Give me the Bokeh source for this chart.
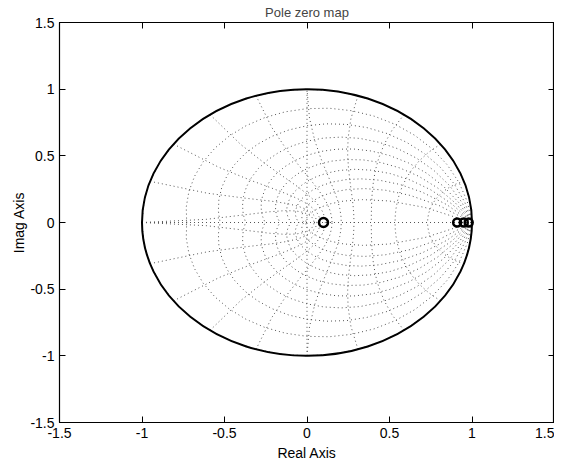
import numpy as np
from bokeh.plotting import figure
from bokeh.models import FixedTicker, LinearAxis, Range1d
from bokeh.embed import file_html
from bokeh.resources import INLINE

title_text = "Pole zero map"
x_label = "Real Axis"
y_label = "Imag Axis"
tick_values = [-1.5, -1, -0.5, 0, 0.5, 1, 1.5]
tick_labels = ["-1.5", "-1", "-0.5", "0", "0.5", "1", "1.5"]

# zgrid parameters (damping ratios and normalized natural frequencies)
zeta_values = [0.0, 0.1, 0.2, 0.3, 0.4, 0.5, 0.6, 0.7, 0.8, 0.9]
wn_values = [0.1, 0.2, 0.3, 0.4, 0.5, 0.6, 0.7, 0.8, 0.9, 1.0]

# pole / zero locations
zero_re = [0.1]
zero_im = [0.0]
pole_re = [0.91, 0.95, 0.98]
pole_im = [0.0, 0.0, 0.0]

FONT = "Liberation Sans"

p = figure(width=554, height=463, output_backend="svg", toolbar_location=None,
           x_range=Range1d(-1.5, 1.5), y_range=Range1d(-1.5, 1.5),
           min_border_left=59, min_border_right=0, min_border_top=20,
           min_border_bottom=30, x_axis_label=x_label, y_axis_label=y_label)
p.title.text = title_text
p.title.align = "center"
p.title.text_font = FONT
p.title.text_font_size = "13px"
p.title.text_font_style = "normal"
p.title.standoff = 5
p.grid.visible = False
p.outline_line_color = "black"
p.outline_line_width = 1.2
p.background_fill_color = "white"
p.border_fill_color = "white"

labels = {v: t for v, t in zip(tick_values, tick_labels)}
for ax in (p.xaxis[0], p.yaxis[0]):
    ax.ticker = FixedTicker(ticks=tick_values)
    ax.major_label_overrides = labels
    ax.major_tick_in = 6
    ax.major_tick_out = 0
    ax.minor_tick_line_color = None
    ax.axis_line_color = "black"
    ax.major_tick_line_color = "black"
    ax.major_label_text_font = FONT
    ax.major_label_text_font_size = "14px"
    ax.major_label_text_color = "black"
    ax.axis_label_text_font = FONT
    ax.axis_label_text_font_size = "14px"
    ax.axis_label_text_font_style = "normal"
    ax.axis_label_text_color = "black"
p.xaxis[0].major_label_standoff = 5
p.xaxis[0].axis_label_standoff = 4
p.yaxis[0].major_label_standoff = 5
p.yaxis[0].axis_label_standoff = 0

for loc in ("above", "right"):
    ax = LinearAxis(ticker=FixedTicker(ticks=tick_values),
                    major_label_overrides={v: "" for v in tick_values},
                    major_tick_in=6, major_tick_out=0, major_label_standoff=0,
                    minor_tick_line_color=None, axis_line_color="black",
                    major_label_text_font_size="0px")
    p.add_layout(ax, loc)

# zgrid: damping-ratio spirals and natural-frequency curves
xs, ys = [], []
t = np.linspace(0, np.pi, 21)
for zeta in zeta_values:
    m = zeta / np.sqrt(1 - zeta ** 2)
    z = np.exp(t * (-m + 1j))
    xs += [z.real, z.real]
    ys += [z.imag, -z.imag]
th = np.linspace(np.pi / 2, np.pi, 11)
for wn in wn_values:
    z = np.exp(wn * np.pi * np.exp(1j * th))
    xs += [z.real, z.real]
    ys += [z.imag, -z.imag]
xs += [np.array([-1.0, 1.0]), np.array([0.0, 0.0])]
ys += [np.array([0.0, 0.0]), np.array([-1.0, 1.0])]
p.multi_line(xs, ys, line_color="#555555", line_dash="1 3", line_width=1)

# unit circle
p.ellipse(x=[0], y=[0], width=[2], height=[2], fill_color=None,
          line_color="black", line_width=2)

# zeros and poles
p.scatter(zero_re, zero_im, marker="circle", size=9, fill_color=None,
          line_color="black", line_width=2.5)
p.scatter(pole_re, pole_im, marker="circle", size=8, fill_color=None,
          line_color="black", line_width=2.5)

open("out.html", "w").write(file_html(p, INLINE))
